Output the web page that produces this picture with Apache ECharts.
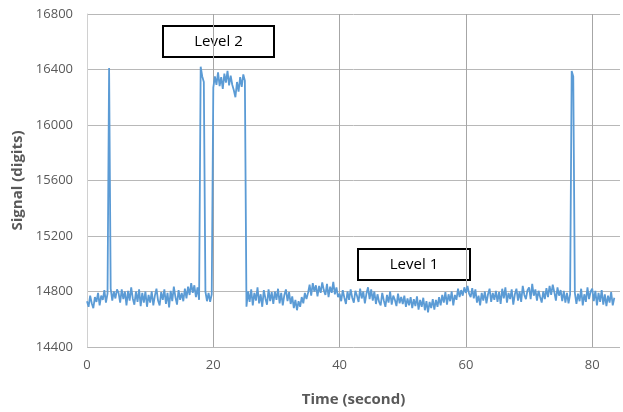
<!DOCTYPE html>
<html>
<head>
<meta charset="utf-8">
<script src="https://cdn.jsdelivr.net/npm/echarts@6/dist/echarts.min.js"></script>
<style>html,body{margin:0;padding:0;background:#fff;overflow:hidden}#c{width:623px;height:412px}</style>
</head>
<body>
<div id="c"></div>
<script>
var timeStep = 0.25; // seconds between samples
var signal = [
14730,14690,14770,14715,14680,14760,14725,14790,14700,14770,14740,14810,14720,14785,16410,14820,14735,14800,14750,14815,
14790,14720,14815,14745,14800,14700,14805,14735,14830,14750,14705,14800,14725,14815,14695,14790,14720,14800,14690,14775,
14720,14800,14700,14770,14820,14735,14700,14795,14740,14815,14710,14790,14685,14805,14730,14835,14760,14705,14810,14740,
14790,14730,14820,14750,14835,14775,14860,14790,14845,14760,14830,14740,16420,16350,16310,14800,14730,14790,14725,14780,
16270,16350,16290,16380,16280,16345,16260,16370,16305,16390,16285,16355,16290,16250,16200,16310,16240,16345,16275,16365,
16320,14690,14800,14725,14815,14700,14790,14735,14830,14715,14780,14690,14810,14750,14705,14815,14730,14795,14710,14800,
14740,14820,14715,14790,14700,14775,14815,14730,14795,14710,14765,14680,14740,14665,14730,14690,14760,14715,14790,14745,
14790,14850,14770,14860,14800,14845,14765,14840,14790,14865,14810,14775,14855,14760,14835,14790,14870,14780,14830,14760,
14785,14730,14810,14755,14710,14800,14740,14815,14755,14720,14805,14770,14725,14820,14750,14800,14715,14785,14830,14745,
14815,14735,14800,14710,14780,14725,14700,14790,14735,14690,14775,14720,14800,14705,14770,14740,14695,14785,14715,14760,
14710,14770,14690,14750,14700,14760,14680,14745,14695,14765,14670,14740,14690,14755,14665,14730,14650,14725,14680,14745,
14670,14740,14690,14760,14700,14775,14720,14795,14705,14780,14730,14800,14700,14775,14740,14820,14760,14810,14770,14830,
14790,14840,14785,14760,14825,14750,14815,14720,14770,14700,14790,14735,14800,14715,14780,14820,14725,14790,14740,14805,
14725,14795,14710,14820,14750,14830,14720,14790,14745,14815,14705,14780,14820,14735,14800,14725,14840,14775,14745,14810,
14830,14745,14855,14770,14815,14735,14805,14760,14720,14800,14745,14825,14760,14840,14775,14850,14795,14735,14830,14770,
14810,14730,14805,14720,14790,14715,14780,16390,16350,14790,14710,14785,14730,14820,14700,14780,14725,14830,14745,14800,
14820,14730,14805,14700,14790,14725,14810,14705,14780,14695,14770,14720,14795,14700,14755
];
var xTicks = [0, 20, 40, 60, 80];
var yTicks = [14400, 14800, 15200, 15600, 16000, 16400, 16800];
var annotations = ["Level 2", "Level 1"];

var data = signal.map(function (v, i) { return [i * timeStep, v]; });

var chart = echarts.init(document.getElementById('c'), null, {renderer: 'canvas'});
var font = "'Open Sans', 'Noto Sans', sans-serif";
chart.setOption({
  animation: false,
  grid: {left: 87, right: 0, top: 14, bottom: 64},
  xAxis: {
    type: 'value', min: 0, max: 84.4, interval: 20,
    name: 'Time (second)', nameLocation: 'middle', nameGap: 45,
    nameTextStyle: {color: '#595959', fontSize: 15, fontWeight: 'bold', fontFamily: font},
    axisLine: {show: false},
    axisTick: {show: false},
    axisLabel: {color: '#595959', fontSize: 13, fontFamily: font, margin: 12,
      formatter: function (v) { return xTicks.indexOf(v) >= 0 ? String(v) : ''; }},
    splitLine: {show: true, showMinLine: false, showMaxLine: false, lineStyle: {color: '#a6a6a6', width: 1}}
  },
  yAxis: {
    type: 'value', min: yTicks[0], max: yTicks[yTicks.length - 1], interval: 400,
    name: 'Signal (digits)', nameLocation: 'middle', nameGap: 60,
    nameTextStyle: {color: '#595959', fontSize: 15, fontWeight: 'bold', fontFamily: font},
    axisLine: {show: true, lineStyle: {color: '#d0d0d0', width: 1}},
    axisTick: {show: false},
    axisLabel: {color: '#595959', fontSize: 13, fontFamily: font, margin: 14,
      formatter: function (v) { return String(v); }},
    splitLine: {show: true, lineStyle: {color: '#b8b8b8', width: 1}}
  },
  series: [{
    type: 'line', data: data, showSymbol: false, symbol: 'none',
    lineStyle: {color: '#5b9bd5', width: 1.8}, itemStyle: {color: '#5b9bd5'}
  }],
  graphic: [
    {type: 'group', left: 162, top: 25, children: [
      {type: 'rect', shape: {x: 0, y: 0, width: 111, height: 31}, style: {fill: '#fff', stroke: '#000', lineWidth: 2}},
      {type: 'text', style: {x: 55.5, y: 16, text: annotations[0], fill: '#000', font: "15px 'Open Sans', sans-serif", textAlign: 'center', textVerticalAlign: 'middle'}}
    ]},
    {type: 'group', left: 357, top: 248, children: [
      {type: 'rect', shape: {x: 0, y: 0, width: 112, height: 31}, style: {fill: '#fff', stroke: '#000', lineWidth: 2}},
      {type: 'text', style: {x: 56, y: 16, text: annotations[1], fill: '#000', font: "15px 'Open Sans', sans-serif", textAlign: 'center', textVerticalAlign: 'middle'}}
    ]}
  ]
});
</script>
</body>
</html>
